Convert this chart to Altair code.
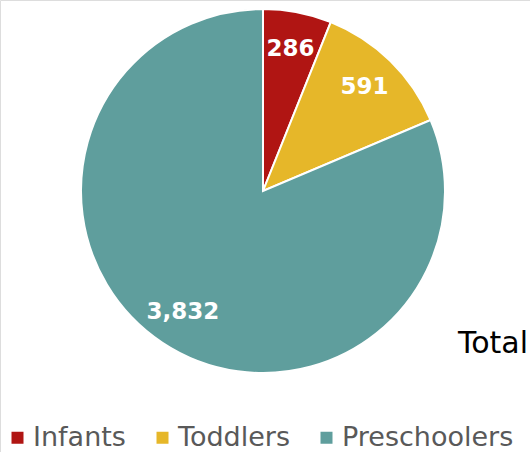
import altair as alt
import pandas as pd

categories = ["Infants", "Toddlers", "Preschoolers"]
values = [286, 591, 3832]
colors = ["#B01513", "#E6B729", "#5F9E9D"]
total_label = "Total"

df = pd.DataFrame({"category": categories, "value": values, "order": [0, 1, 2]})

cx, cy = 263, 191

base = alt.Chart(df).encode(
    theta=alt.Theta("value:Q", stack=True),
    order=alt.Order("order:Q"),
    x=alt.value(cx),
    y=alt.value(cy),
)

pie = base.mark_arc(radius=182, stroke="white", strokeWidth=2).encode(
    color=alt.Color(
        "category:N",
        sort=categories,
        scale=alt.Scale(domain=categories, range=colors),
        legend=alt.Legend(
            title=None,
            orient="none",
            direction="horizontal",
            legendX=4,
            legendY=424,
            symbolType="square",
            symbolSize=144,
            symbolStrokeWidth=0,
            labelFont="DejaVu Sans",
            labelFontSize=27,
            labelColor="#595959",
            labelOffset=2,
            columnPadding=23,
            labelLimit=300,
        ),
    )
)

labels = base.mark_text(
    radius=145, font="DejaVu Sans", fontWeight="bold", fontSize=23, color="white"
).encode(text=alt.Text("value:Q", format=","))

total = alt.Chart(pd.DataFrame({"t": [total_label]})).mark_text(
    font="DejaVu Sans", fontSize=30, color="#000000", align="left", baseline="alphabetic"
).encode(text="t:N", x=alt.value(458), y=alt.value(353))

chart = (
    alt.layer(pie, labels, total)
    .properties(width=530, height=452, autosize=alt.AutoSizeParams(type="none"), padding=0)
    .configure_view(stroke=None)
    .configure(background="white")
)

chart.save("out.html", embed_options={"renderer": "svg", "actions": False})
